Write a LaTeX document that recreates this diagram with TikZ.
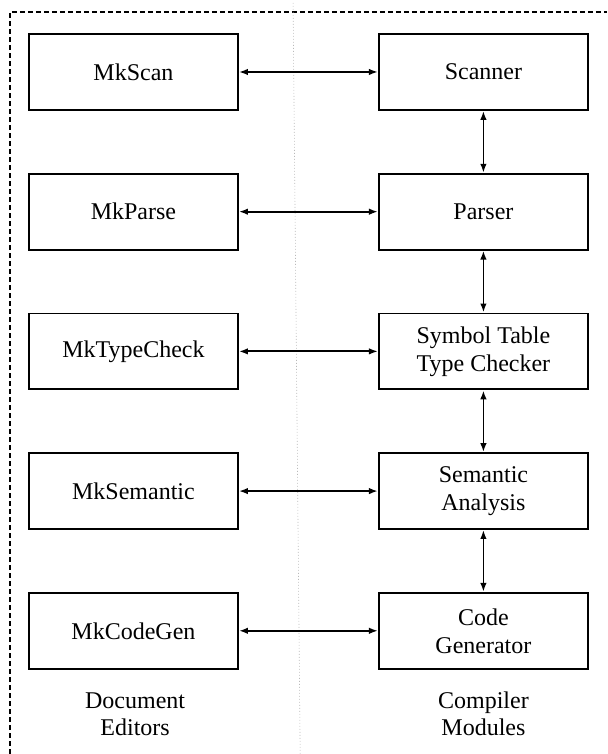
\documentclass[tikz,border=0pt]{standalone}
\usepackage{tikz}
\usetikzlibrary{arrows.meta}
\usepackage{fontspec}
\setmainfont{Liberation Serif}

\tikzset{
  box/.style={rectangle, draw, line width=1.8pt, minimum width=7.35cm, minimum height=2.67cm, align=center, font=\fontsize{24}{28}\selectfont},
  caption/.style={align=center, font=\fontsize{24}{27}\selectfont},
  link/.style={line width=1.8pt, {Latex[length=9pt,width=6.5pt]}-{Latex[length=9pt,width=6.5pt]}}
}

\begin{document}
\begin{tikzpicture}
  \useasboundingbox (0,0) rectangle (21.334,26.5);
  \draw[line width=1.8pt, dash pattern=on 5pt off 3pt] (0.35,0) -- (0.35,26.08) -- (21.334,26.08);
  \draw[gray!55, line width=0.6pt, dash pattern=on 1pt off 2pt] (10.3,26.4) -- (10.55,0);

  \node[box] (e1) at (4.69,23.97) {MkScan};
  \node[box] (e2) at (4.69,19.06) {MkParse};
  \node[box] (e3) at (4.69,14.15) {MkTypeCheck};
  \node[box] (e4) at (4.69,9.24) {MkSemantic};
  \node[box] (e5) at (4.69,4.33) {MkCodeGen};

  \node[box] (c1) at (16.99,23.97) {Scanner};
  \node[box] (c2) at (16.99,19.06) {Parser};
  \node[box] (c3) at (16.99,14.15) {Symbol Table\\Type Checker};
  \node[box] (c4) at (16.99,9.24) {Semantic\\Analysis};
  \node[box] (c5) at (16.99,4.33) {Code\\Generator};

  \node[caption] (ed) at (4.75,1.41) {Document\\Editors};
  \node[caption] (cm) at (16.99,1.41) {Compiler\\Modules};

  \draw[link] (e1) -- (c1);
  \draw[link] (e2) -- (c2);
  \draw[link] (e3) -- (c3);
  \draw[link] (e4) -- (c4);
  \draw[link] (e5) -- (c5);
  \draw[link] (c1) -- (c2);
  \draw[link] (c2) -- (c3);
  \draw[link] (c3) -- (c4);
  \draw[link] (c4) -- (c5);
\end{tikzpicture}
\end{document}
